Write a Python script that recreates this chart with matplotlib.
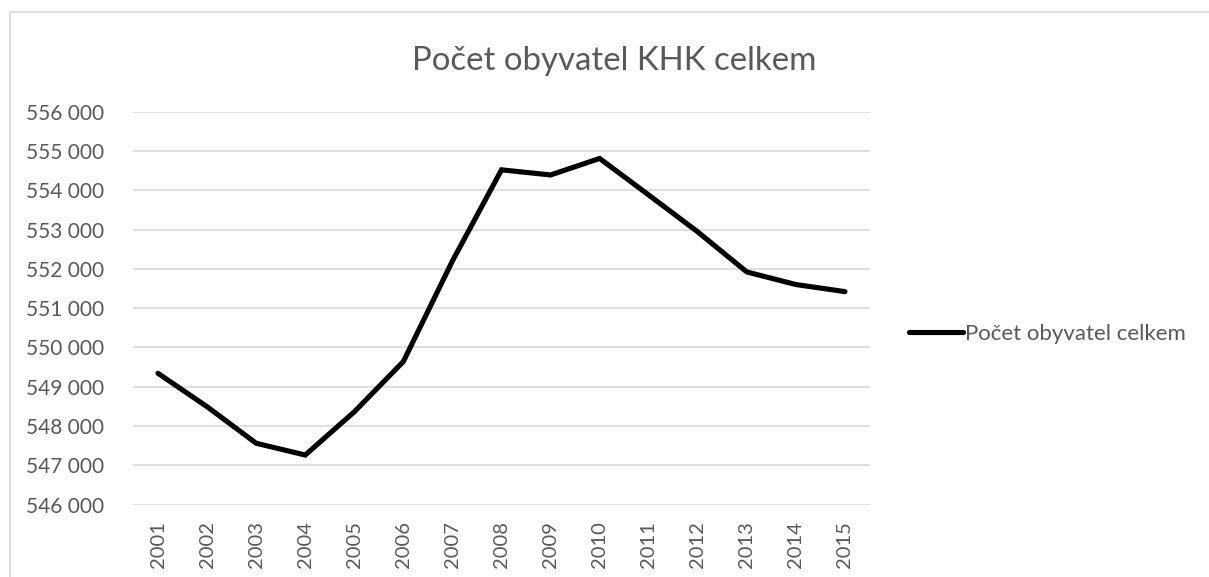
import matplotlib
matplotlib.use('Agg')
from matplotlib import pyplot as plt
from matplotlib.patches import Rectangle
from matplotlib.ticker import FuncFormatter

years = ['2001', '2002', '2003', '2004', '2005', '2006', '2007', '2008',
         '2009', '2010', '2011', '2012', '2013', '2014', '2015']
obyvatel = [549340, 548490, 547560, 547260, 548360, 549640, 552200, 554520,
            554390, 554810, 553880, 552940, 551920, 551600, 551420]

plt.rcParams['font.family'] = ['Lato', 'DejaVu Sans']
grey = '#595959'

fig = plt.figure(figsize=(12.09, 5.77), dpi=100)
ax = fig.add_axes([0.1104, 0.1256, 0.6088, 0.6808])

# ramecek grafu
fig.patches.append(Rectangle((10 / 1209, -0.1), 1.2, 1 - 12 / 577 + 0.1,
                             transform=fig.transFigure, fill=False,
                             edgecolor='#d9d9d9', linewidth=1.2))

x = range(len(years))
ax.plot(x, obyvatel, color='black', linewidth=3.7, solid_joinstyle='miter',
        solid_capstyle='round', label='Počet obyvatel celkem')

ax.set_xlim(-0.5, len(years) - 0.5)
ax.set_ylim(546000, 556000)
ax.set_yticks(range(546000, 556001, 1000))
ax.yaxis.set_major_formatter(FuncFormatter(lambda v, p: f'{int(v):,}'.replace(',', ' ')))
ax.set_xticks(list(x))
ax.set_xticklabels(years, rotation=90)

ax.grid(axis='y', color='#d9d9d9', linewidth=1.2)
ax.set_axisbelow(True)
for s in ax.spines.values():
    s.set_visible(False)
ax.tick_params(axis='both', length=0, colors=grey, labelsize=15)
ax.tick_params(axis='y', pad=21)
ax.tick_params(axis='x', pad=12, labelsize=14.5)

fig.text(0.508, 0.895, 'Počet obyvatel KHK celkem', ha='center', va='center',
         fontsize=23.8, color=grey)

leg = ax.legend(loc='center left', bbox_to_anchor=(1.026, 0.434), frameon=False,
                fontsize=16, handlelength=2.45, handletextpad=0.1)
for t in leg.get_texts():
    t.set_color(grey)

fig.savefig('out.png', dpi=100)
